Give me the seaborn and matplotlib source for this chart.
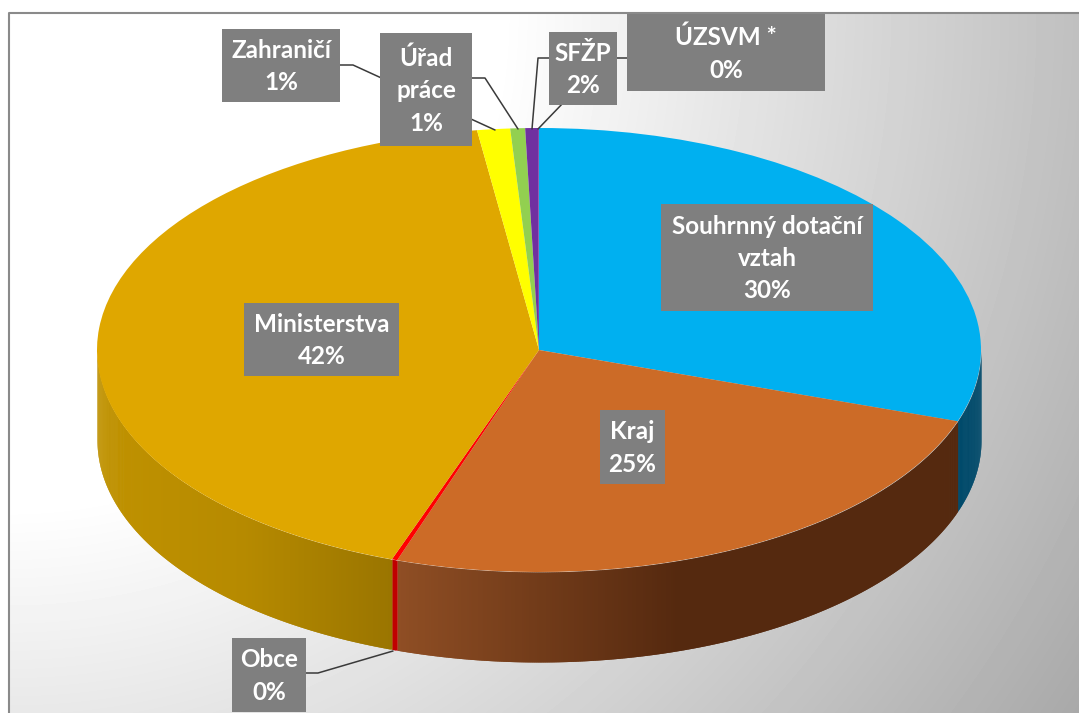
#!/usr/bin/env python3
import matplotlib
matplotlib.use('Agg')

import matplotlib.pyplot as plt
import numpy as np
import seaborn as sns
from matplotlib.patches import Rectangle

sns.set_theme(style="white")
plt.rcParams['font.family'] = ['Lato', 'DejaVu Sans']

# data, clockwise from the top
categories = ['Souhrnný dotační\nvztah', 'Kraj', 'Obce', 'Ministerstva',
              'Zahraničí', 'Úřad\npráce', 'SFŽP', 'ÚZSVM *']
values = [30.2, 25.0, 0.2, 42.36, 1.2, 0.54, 0.47, 0.03]
percent_labels = ['30%', '25%', '0%', '42%', '1%', '1%', '2%', '0%']
top_colors = ['#00b0f0', '#cc6b27', '#ff0000', '#dfa700',
              '#ffff00', '#92d050', '#7030a0', '#7030a0']
# side wall colours, left to right
wall_colors = [['#004a6b', '#004a6b'], ['#8f4e24', '#55290f', '#55290f'],
               ['#c00000', '#c00000'], ['#c09200', '#b68a00', '#9a7500'],
               ['#b0b000', '#b0b000'], ['#648f36', '#648f36'],
               ['#4d2170', '#4d2170'], ['#4d2170', '#4d2170']]

# geometry of the squashed pie, in pixels
W, H = 1079, 713
cx, cy, rx, ry, depth = 539, 350, 442, 222, 90

fig = plt.figure(figsize=(W / 100, H / 100), dpi=100)

# background: radial grey from the top left corner
bg = fig.add_axes([0, 0, 1, 1], zorder=0)
yy, xx = np.mgrid[0:H, 0:W]
dist = np.hypot(xx - 8, yy - 13)
shade = 1 - 0.00043 * np.clip(dist - 492, 0, None)
shade[(xx < 8) | (yy < 13)] = 1
bg.imshow(shade, cmap='gray', vmin=0, vmax=1, aspect='auto', interpolation='bilinear')
bg.axis('off')

# pie axes: unit circle squashed by the axis limits
ax = fig.add_axes([0, 0, 1, 1], zorder=1)
ax.patch.set_alpha(0)
ax.pie(values, colors=top_colors, startangle=90, counterclock=False, radius=1,
       center=(0, 0), frame=True, wedgeprops={'linewidth': 0, 'zorder': 5})
ax.set_aspect('auto')
ax.set_xlim(-cx / rx, (W - cx) / rx)
ax.set_ylim((cy - H) / ry, cy / ry)
ax.axis('off')

# side walls, front half only
wall_h = depth / ry
ends = np.cumsum(values) / np.sum(values) * 2 * np.pi
starts = np.r_[0, ends[:-1]]
for a0, a1, cols in zip(starts, ends, wall_colors):
    a0, a1 = max(a0, np.pi / 2), min(a1, 1.5 * np.pi)
    if a1 <= a0:
        continue
    n = max(2, int((a1 - a0) * 240))
    th = np.linspace(a0, a1, n + 1)
    xs = np.sin(th)
    ys = np.cos(th)
    pal = sns.blend_palette(cols, 256)
    # colour follows x; each strip runs one step under the next so no seams show
    idx = (xs - xs.min()) / (xs.max() - xs.min()) * 255
    for i in range(n):
        ax.fill_between(xs[i:i + 3], ys[i:i + 3], ys[i:i + 3] - wall_h,
                        color=pal[int(idx[i])], linewidth=0, zorder=2)

# overlay in pixel coordinates: frame, leader lines, label boxes
ov = fig.add_axes([0, 0, 1, 1], zorder=2)
ov.patch.set_alpha(0)
ov.set_xlim(0, W)
ov.set_ylim(H, 0)
ov.axis('off')

ov.plot([8.5, 8.5, W], [H, 13, 13], color='#8a8a8a', lw=1.5, zorder=1)

leaders = [
    [(306, 673), (318, 673), (393, 651)],
    [(340, 65), (353, 65), (495, 130)],
    [(472, 78), (485, 78), (518, 129)],
    [(564, 102), (538, 129)],
    [(627, 58), (538, 58), (532, 129)],
]
for pts in leaders:
    ov.plot(*zip(*pts), color='#3a3a3a', lw=1.1, zorder=2)

boxes = {
    'Souhrnný dotační\nvztah': (661, 204, 873, 311),
    'Kraj': (600, 410, 665, 484),
    'Obce': (232, 638, 306, 712),
    'Ministerstva': (244, 303, 399, 376),
    'Zahraničí': (222, 29, 340, 102),
    'Úřad\npráce': (380, 33, 472, 146),
    'SFŽP': (549, 32, 617, 105),
    'ÚZSVM *': (627, 14, 825, 91),
}
for name, pct in zip(categories, percent_labels):
    x0, y0, x1, y1 = boxes[name]
    ov.add_patch(Rectangle((x0, y0), x1 - x0, y1 - y0, facecolor='#7f7f7f',
                           edgecolor='none', zorder=3))
    ov.text((x0 + x1) / 2, (y0 + y1) / 2 + 1, f'{name}\n{pct}', color='white',
            fontsize=17.5, fontweight='bold', ha='center', va='center',
            linespacing=1.5, zorder=4)

plt.savefig('out.png', dpi=100)
